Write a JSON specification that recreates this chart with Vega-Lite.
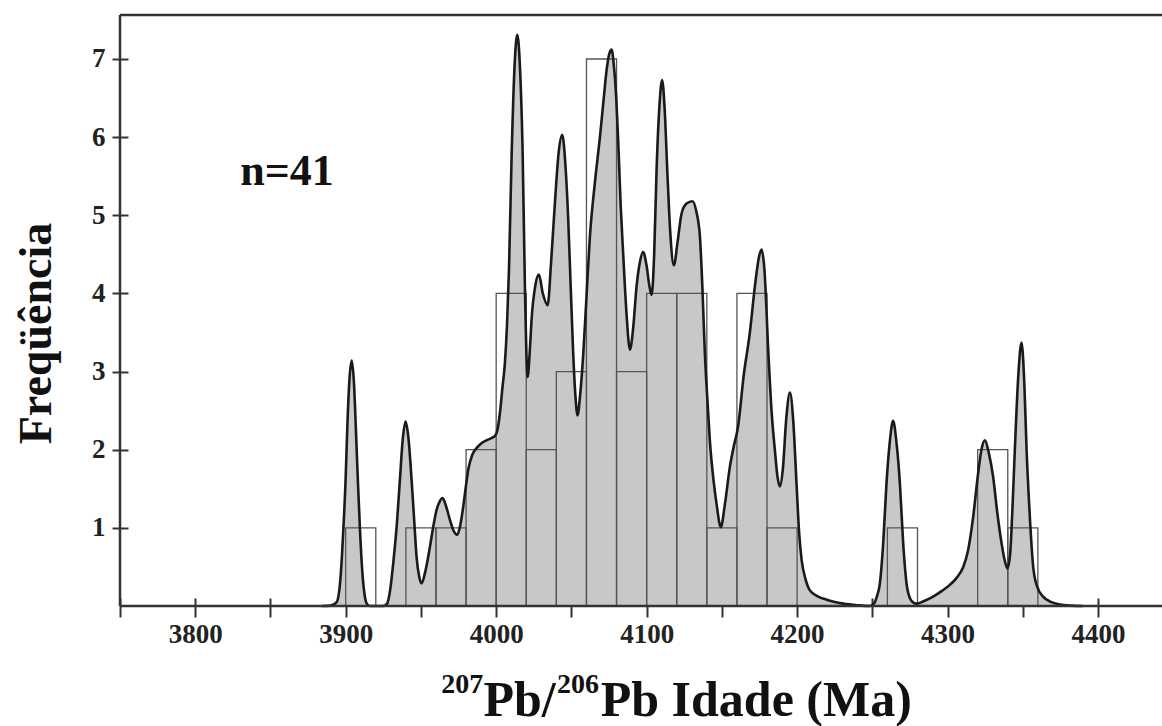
{
  "$schema": "https://vega.github.io/schema/vega-lite/v6.json",
  "width": 1042,
  "height": 591,
  "autosize": {"type": "none"},
  "padding": {"left": 120, "top": 15, "right": 0, "bottom": 120},
  "background": "white",
  "config": {
    "view": {"stroke": null},
    "axis": {
      "labelFont": "Liberation Serif",
      "labelFontWeight": "bold",
      "labelFontSize": 27,
      "labelColor": "#222",
      "titleFont": "Liberation Serif",
      "titleFontWeight": "bold",
      "titleColor": "#111",
      "tickColor": "#333",
      "tickWidth": 2,
      "grid": false,
      "domain": false
    }
  },
  "datasets": {
    "curve": [
      {"age": 3884, "freq": 0}, {"age": 3890, "freq": 0.005}, {"age": 3894, "freq": 0.05},
      {"age": 3896.5, "freq": 0.35}, {"age": 3898.4, "freq": 0.97}, {"age": 3900, "freq": 1.65},
      {"age": 3901, "freq": 2.25}, {"age": 3902.5, "freq": 2.9}, {"age": 3904, "freq": 3.14},
      {"age": 3905.5, "freq": 2.85}, {"age": 3906.8, "freq": 2.25}, {"age": 3908.2, "freq": 1.55},
      {"age": 3909.5, "freq": 0.97}, {"age": 3911, "freq": 0.45}, {"age": 3912.5, "freq": 0.15},
      {"age": 3914, "freq": 0.03}, {"age": 3916, "freq": 0}, {"age": 3925, "freq": 0},
      {"age": 3927.5, "freq": 0.03}, {"age": 3929.5, "freq": 0.2}, {"age": 3931.6, "freq": 0.55},
      {"age": 3934, "freq": 1.05}, {"age": 3936, "freq": 1.61}, {"age": 3938, "freq": 2.15},
      {"age": 3939.8, "freq": 2.36}, {"age": 3941.7, "freq": 2.15}, {"age": 3943.8, "freq": 1.61},
      {"age": 3945.5, "freq": 1.1}, {"age": 3947.1, "freq": 0.63}, {"age": 3948.8, "freq": 0.38},
      {"age": 3950.4, "freq": 0.29}, {"age": 3953, "freq": 0.45}, {"age": 3956, "freq": 0.76},
      {"age": 3958.5, "freq": 1.05}, {"age": 3960.4, "freq": 1.23}, {"age": 3962.5, "freq": 1.34},
      {"age": 3964.4, "freq": 1.38}, {"age": 3966.8, "freq": 1.27}, {"age": 3969.3, "freq": 1.1},
      {"age": 3971.8, "freq": 0.96}, {"age": 3974.1, "freq": 0.91}, {"age": 3976, "freq": 1.02},
      {"age": 3978.1, "freq": 1.27}, {"age": 3979.8, "freq": 1.52}, {"age": 3981.4, "freq": 1.74},
      {"age": 3984, "freq": 1.93}, {"age": 3987, "freq": 2.02}, {"age": 3990, "freq": 2.08},
      {"age": 3993.6, "freq": 2.12}, {"age": 3997, "freq": 2.15}, {"age": 3999.2, "freq": 2.18},
      {"age": 4000.8, "freq": 2.25}, {"age": 4002.5, "freq": 2.47}, {"age": 4004.2, "freq": 2.8},
      {"age": 4005.8, "freq": 3.11}, {"age": 4007.2, "freq": 3.6}, {"age": 4008.5, "freq": 4.3},
      {"age": 4010.3, "freq": 5.79}, {"age": 4012.2, "freq": 6.9}, {"age": 4014, "freq": 7.31},
      {"age": 4015.8, "freq": 6.9}, {"age": 4017.6, "freq": 5.79}, {"age": 4019.1, "freq": 4.09},
      {"age": 4020.9, "freq": 2.93}, {"age": 4022.3, "freq": 3.25}, {"age": 4023.5, "freq": 3.66},
      {"age": 4026, "freq": 4.1}, {"age": 4028.4, "freq": 4.24}, {"age": 4031, "freq": 4.0},
      {"age": 4034.2, "freq": 3.85}, {"age": 4036.5, "freq": 4.4}, {"age": 4039, "freq": 5.15},
      {"age": 4041.5, "freq": 5.8}, {"age": 4043.9, "freq": 6.03}, {"age": 4046, "freq": 5.65},
      {"age": 4047.9, "freq": 4.94}, {"age": 4049.5, "freq": 4.1}, {"age": 4051.2, "freq": 3.23},
      {"age": 4052.8, "freq": 2.65}, {"age": 4054.1, "freq": 2.44}, {"age": 4055.8, "freq": 2.7},
      {"age": 4057.9, "freq": 3.23}, {"age": 4060, "freq": 3.95}, {"age": 4062.3, "freq": 4.73},
      {"age": 4065.5, "freq": 5.4}, {"age": 4069, "freq": 6.01}, {"age": 4071.5, "freq": 6.5},
      {"age": 4073.4, "freq": 6.86}, {"age": 4075.2, "freq": 7.07}, {"age": 4076.7, "freq": 7.12},
      {"age": 4078.3, "freq": 6.9}, {"age": 4079.8, "freq": 6.5}, {"age": 4081.1, "freq": 5.95},
      {"age": 4082.8, "freq": 5.1}, {"age": 4084.4, "freq": 4.51}, {"age": 4086.6, "freq": 3.75},
      {"age": 4088.9, "freq": 3.28}, {"age": 4091, "freq": 3.55}, {"age": 4093.3, "freq": 4.09},
      {"age": 4095.5, "freq": 4.4}, {"age": 4097.7, "freq": 4.53}, {"age": 4100, "freq": 4.35},
      {"age": 4101.8, "freq": 4.1}, {"age": 4103.3, "freq": 3.98}, {"age": 4105, "freq": 4.5},
      {"age": 4106.6, "freq": 5.58}, {"age": 4108.5, "freq": 6.4}, {"age": 4110.3, "freq": 6.73},
      {"age": 4112, "freq": 6.35}, {"age": 4113.7, "freq": 5.58}, {"age": 4115.8, "freq": 4.75},
      {"age": 4118.1, "freq": 4.36}, {"age": 4120.5, "freq": 4.65}, {"age": 4123.2, "freq": 5.02},
      {"age": 4126.5, "freq": 5.15}, {"age": 4130.5, "freq": 5.18}, {"age": 4133, "freq": 5.05},
      {"age": 4135.4, "freq": 4.73}, {"age": 4137, "freq": 4.1}, {"age": 4138.7, "freq": 3.23},
      {"age": 4140.5, "freq": 2.6}, {"age": 4142, "freq": 2.12}, {"age": 4144.5, "freq": 1.6},
      {"age": 4146.5, "freq": 1.3}, {"age": 4149.3, "freq": 1.01}, {"age": 4152, "freq": 1.3},
      {"age": 4155.3, "freq": 1.78}, {"age": 4158, "freq": 2.05}, {"age": 4160.8, "freq": 2.3},
      {"age": 4164.5, "freq": 2.95}, {"age": 4168.6, "freq": 3.5}, {"age": 4172, "freq": 4.1},
      {"age": 4174.5, "freq": 4.45}, {"age": 4176.4, "freq": 4.56}, {"age": 4178.3, "freq": 4.3},
      {"age": 4180.8, "freq": 3.28}, {"age": 4183, "freq": 2.5}, {"age": 4185.2, "freq": 2.0},
      {"age": 4187, "freq": 1.65}, {"age": 4188.5, "freq": 1.53}, {"age": 4190.5, "freq": 1.75},
      {"age": 4192.8, "freq": 2.4}, {"age": 4195.2, "freq": 2.73}, {"age": 4197.5, "freq": 2.35},
      {"age": 4199.6, "freq": 1.57}, {"age": 4201.3, "freq": 0.95}, {"age": 4203, "freq": 0.59},
      {"age": 4205.5, "freq": 0.35}, {"age": 4208.5, "freq": 0.2}, {"age": 4214, "freq": 0.12},
      {"age": 4219.6, "freq": 0.08}, {"age": 4225, "freq": 0.05}, {"age": 4230.6, "freq": 0.03},
      {"age": 4240, "freq": 0.01}, {"age": 4248, "freq": 0}, {"age": 4251, "freq": 0.03},
      {"age": 4253, "freq": 0.12}, {"age": 4255, "freq": 0.29}, {"age": 4257.2, "freq": 0.8},
      {"age": 4259.4, "freq": 1.57}, {"age": 4261.6, "freq": 2.1}, {"age": 4263.8, "freq": 2.37},
      {"age": 4266, "freq": 2.1}, {"age": 4268.3, "freq": 1.57}, {"age": 4270.5, "freq": 0.8},
      {"age": 4272.7, "freq": 0.29}, {"age": 4275, "freq": 0.1}, {"age": 4277.5, "freq": 0.04},
      {"age": 4279.4, "freq": 0.03}, {"age": 4284, "freq": 0.06}, {"age": 4290.4, "freq": 0.12},
      {"age": 4296, "freq": 0.19}, {"age": 4301.5, "freq": 0.27}, {"age": 4306, "freq": 0.36},
      {"age": 4310.4, "freq": 0.5}, {"age": 4313.5, "freq": 0.7}, {"age": 4317, "freq": 1.14},
      {"age": 4320, "freq": 1.65}, {"age": 4322.5, "freq": 2.0}, {"age": 4324.8, "freq": 2.12},
      {"age": 4327.5, "freq": 1.95}, {"age": 4330.3, "freq": 1.65}, {"age": 4333, "freq": 1.2},
      {"age": 4335.9, "freq": 0.8}, {"age": 4338, "freq": 0.58}, {"age": 4339.8, "freq": 0.48},
      {"age": 4341.5, "freq": 0.65}, {"age": 4343, "freq": 1.2}, {"age": 4344.7, "freq": 2.0},
      {"age": 4347, "freq": 2.95}, {"age": 4349.1, "freq": 3.37}, {"age": 4351, "freq": 2.85},
      {"age": 4352.5, "freq": 2.0}, {"age": 4354.5, "freq": 1.2}, {"age": 4356.9, "freq": 0.5},
      {"age": 4359.5, "freq": 0.25}, {"age": 4363.5, "freq": 0.12}, {"age": 4369, "freq": 0.05},
      {"age": 4374.6, "freq": 0.02}, {"age": 4382, "freq": 0.005}, {"age": 4390, "freq": 0}
    ],
    "bins": [
      {"start": 3900, "end": 3920, "count": 1},
      {"start": 3940, "end": 3960, "count": 1},
      {"start": 3960, "end": 3980, "count": 1},
      {"start": 3980, "end": 4000, "count": 2},
      {"start": 4000, "end": 4020, "count": 4},
      {"start": 4020, "end": 4040, "count": 2},
      {"start": 4040, "end": 4060, "count": 3},
      {"start": 4060, "end": 4080, "count": 7},
      {"start": 4080, "end": 4100, "count": 3},
      {"start": 4100, "end": 4120, "count": 4},
      {"start": 4120, "end": 4140, "count": 4},
      {"start": 4140, "end": 4160, "count": 1},
      {"start": 4160, "end": 4180, "count": 4},
      {"start": 4180, "end": 4200, "count": 1},
      {"start": 4260, "end": 4280, "count": 1},
      {"start": 4320, "end": 4340, "count": 2},
      {"start": 4340, "end": 4360, "count": 1}
    ],
    "note": [
      {"label": "n=41", "age": 3861, "freq": 5.39}
    ],
    "frame": [{}]
  },
  "layer": [
    {
      "data": {"name": "curve"},
      "mark": {"type": "area", "interpolate": "monotone", "color": "#c8c8c8", "opacity": 1},
      "encoding": {
        "x": {
          "field": "age", "type": "quantitative",
          "scale": {"domain": [3750, 4442.5], "nice": false, "zero": false},
          "axis": {
            "values": [3750, 3800, 3850, 3900, 3950, 4000, 4050, 4100, 4150, 4200, 4250, 4300, 4350, 4400],
            "labelExpr": "datum.value % 100 == 0 ? datum.label : ''",
            "format": "d",
            "tickSize": 19,
            "offset": -8,
            "labelPadding": 4,
            "labelFlush": false,
            "labelOverlap": false,
            "title": null
          }
        },
        "y": {
          "field": "freq", "type": "quantitative",
          "scale": {"domain": [0, 7.563], "nice": false},
          "axis": {
            "values": [1, 2, 3, 4, 5, 6, 7],
            "format": "d",
            "tickSize": 16,
            "offset": -8,
            "labelPadding": 7,
            "labelFlush": false,
            "title": "Freqüência",
            "titleFontSize": 46,
            "titleAngle": 270,
            "titleX": -78,
            "titleY": 318,
            "titleAlign": "center",
            "titleBaseline": "alphabetic"
          }
        }
      }
    },
    {
      "data": {"name": "bins"},
      "mark": {"type": "rect", "fill": null, "fillOpacity": 0, "stroke": "#555", "strokeWidth": 1.3},
      "encoding": {
        "x": {"field": "start", "type": "quantitative"},
        "x2": {"field": "end"},
        "y": {"field": "count", "type": "quantitative"},
        "y2": {"datum": 0}
      }
    },
    {
      "data": {"name": "curve"},
      "mark": {"type": "line", "interpolate": "monotone", "color": "#1a1a1a", "strokeWidth": 2.6},
      "encoding": {
        "x": {"field": "age", "type": "quantitative"},
        "y": {"field": "freq", "type": "quantitative"}
      }
    },
    {
      "data": {"name": "frame"},
      "mark": {"type": "rule", "color": "#333", "strokeWidth": 2.5},
      "encoding": {"y": {"datum": 0, "type": "quantitative"}}
    },
    {
      "data": {"name": "frame"},
      "mark": {"type": "rule", "color": "#333", "strokeWidth": 2.5},
      "encoding": {"y": {"datum": 7.563, "type": "quantitative"}}
    },
    {
      "data": {"name": "frame"},
      "mark": {"type": "rule", "color": "#333", "strokeWidth": 2.5},
      "encoding": {"x": {"datum": 3750, "type": "quantitative"}}
    },
    {
      "data": {"name": "note"},
      "mark": {"type": "text", "font": "Liberation Serif", "fontWeight": "bold", "fontSize": 44, "align": "center", "baseline": "alphabetic", "color": "#111"},
      "encoding": {
        "x": {"field": "age", "type": "quantitative"},
        "y": {"field": "freq", "type": "quantitative"},
        "text": {"field": "label"}
      }
    },
    {
      "data": {"name": "frame"},
      "mark": {"type": "text", "font": "Liberation Serif", "fontWeight": "bold", "fontSize": 28, "align": "left", "baseline": "alphabetic", "color": "#111"},
      "encoding": {
        "x": {"datum": 3963.5, "type": "quantitative"},
        "y": {"datum": -1.11, "type": "quantitative"},
        "text": {"value": "207"}
      }
    },
    {
      "data": {"name": "frame"},
      "mark": {"type": "text", "font": "Liberation Serif", "fontWeight": "bold", "fontSize": 50, "align": "left", "baseline": "alphabetic", "color": "#111"},
      "encoding": {
        "x": {"datum": 3991.5, "type": "quantitative"},
        "y": {"datum": -1.408, "type": "quantitative"},
        "text": {"value": "Pb/"}
      }
    },
    {
      "data": {"name": "frame"},
      "mark": {"type": "text", "font": "Liberation Serif", "fontWeight": "bold", "fontSize": 28, "align": "left", "baseline": "alphabetic", "color": "#111"},
      "encoding": {
        "x": {"datum": 4040.5, "type": "quantitative"},
        "y": {"datum": -1.11, "type": "quantitative"},
        "text": {"value": "206"}
      }
    },
    {
      "data": {"name": "frame"},
      "mark": {"type": "text", "font": "Liberation Serif", "fontWeight": "bold", "fontSize": 50, "align": "left", "baseline": "alphabetic", "color": "#111"},
      "encoding": {
        "x": {"datum": 4069.5, "type": "quantitative"},
        "y": {"datum": -1.408, "type": "quantitative"},
        "text": {"value": "Pb Idade (Ma)"}
      }
    }
  ]
}
